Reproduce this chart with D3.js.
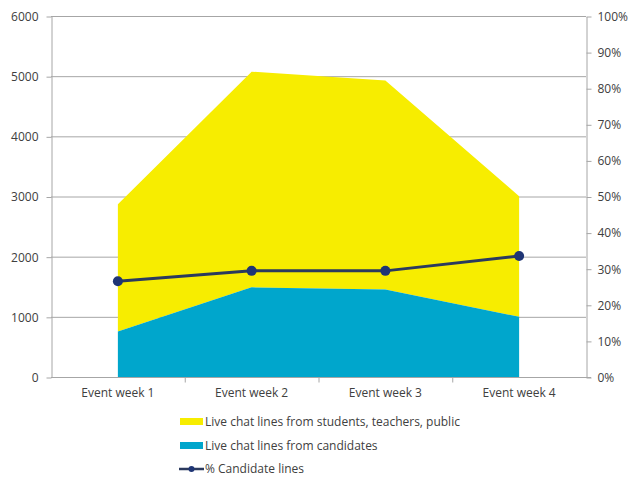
<!DOCTYPE html>
<html><head><meta charset="utf-8">
<script src="https://cdn.jsdelivr.net/npm/d3@7"></script>
<style>body{margin:0;background:#fff}svg text{font-family:"Open Sans",sans-serif;fill:#404040}</style>
</head><body><svg id="c" width="631" height="479"></svg>
<script>
const categories = ["Event week 1","Event week 2","Event week 3","Event week 4"];
const candidateLines = [755, 1490, 1455, 1000];
const publicLines = [2115, 3585, 3475, 2005];
const pctCandidate = [0.265, 0.294, 0.294, 0.335];
const leftTicks = [0,1000,2000,3000,4000,5000,6000];
const rightTicks = [0,0.1,0.2,0.3,0.4,0.5,0.6,0.7,0.8,0.9,1];
const seriesNames = ["Live chat lines from students, teachers, public","Live chat lines from candidates","% Candidate lines"];
const colors = {pub:"#f7ed00", cand:"#00a6cc", line:"#2b3a5e", marker:"#1f3575", axis:"#a6a6a6"};

const svg = d3.select("#c");
const L=51, R=586, T=16, B=377;
const xb = d3.scaleBand().domain(categories).range([L,R]).padding(0);
const xc = c => xb(c)+xb.bandwidth()/2;
const y = d3.scaleLinear().domain([0,6000]).range([B,T]);
const y2 = d3.scaleLinear().domain([0,1]).range([B,T]);

svg.append("g").selectAll("line").data(leftTicks.slice(1)).join("line")
  .attr("x1",L).attr("x2",R).attr("y1",d=>y(d)+0.5).attr("y2",d=>y(d)+0.5)
  .attr("stroke",colors.axis).attr("stroke-width",1);

const data = categories.map((c,i)=>({c, cand:candidateLines[i], total:candidateLines[i]+publicLines[i], pct:pctCandidate[i]}));

svg.append("path").datum(data).attr("fill",colors.pub)
  .attr("d", d3.area().x(d=>xc(d.c)).y0(d=>y(d.cand)).y1(d=>y(d.total)));
svg.append("path").datum(data).attr("fill",colors.cand)
  .attr("d", d3.area().x(d=>xc(d.c)).y0(B).y1(d=>y(d.cand)));

const gl = svg.append("g").attr("transform",`translate(${L+0.5},0.5)`)
  .call(d3.axisLeft(y).tickValues(leftTicks).tickSize(5).tickSizeOuter(0).tickPadding(8).tickFormat(d3.format("d")));
const gr = svg.append("g").attr("transform",`translate(${R+0.5},0.5)`)
  .call(d3.axisRight(y2).tickValues(rightTicks).tickSize(5).tickSizeOuter(0).tickPadding(6).tickFormat(d=>Math.round(d*100)+"%"));
const gb = svg.append("g").attr("transform",`translate(0,${B+0.5})`)
  .call(d3.axisBottom(xb).tickSize(0).tickPadding(11));
gb.append("g").selectAll("line").data(categories.slice(1)).join("line")
  .attr("x1",d=>xb(d)+0.5).attr("x2",d=>xb(d)+0.5).attr("y1",0).attr("y2",5).attr("stroke",colors.axis);
[gl,gr,gb].forEach(g=>{
  g.selectAll("path,line").attr("stroke",colors.axis);
  g.selectAll("text").attr("font-size",12).attr("font-family","'Open Sans',sans-serif").attr("fill","#404040");
});
gb.select(".domain").attr("d",`M${L},0H${R+5}`);

svg.append("path").datum(data).attr("fill","none").attr("stroke",colors.line).attr("stroke-width",3)
  .attr("d", d3.line().x(d=>xc(d.c)).y(d=>y2(d.pct)));
svg.append("g").selectAll("circle").data(data).join("circle")
  .attr("cx",d=>xc(d.c)).attr("cy",d=>y2(d.pct)).attr("r",5).attr("fill",colors.marker);

const lg = svg.append("g");
const ly = [422, 446, 469];
lg.append("rect").attr("x",180).attr("y",ly[0]-4).attr("width",23).attr("height",7).attr("fill",colors.pub);
lg.append("rect").attr("x",180).attr("y",ly[1]-4).attr("width",23).attr("height",7).attr("fill",colors.cand);
lg.append("line").attr("x1",179).attr("x2",204).attr("y1",ly[2]).attr("y2",ly[2]).attr("stroke",colors.line).attr("stroke-width",2.5);
lg.append("circle").attr("cx",191.5).attr("cy",ly[2]).attr("r",3).attr("fill",colors.marker);
lg.selectAll("text").data(seriesNames).join("text")
  .attr("x",205).attr("y",(d,i)=>ly[i]).attr("dy","0.35em").attr("font-size",12).text(d=>d);
</script></body></html>
